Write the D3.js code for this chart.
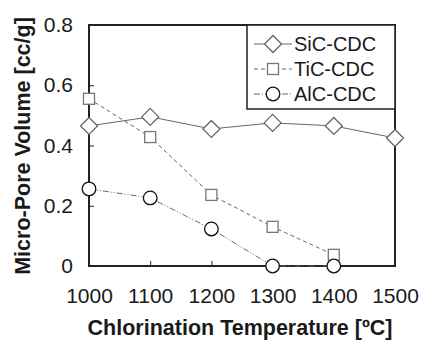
<!DOCTYPE html>
<html>
<head>
<meta charset="utf-8">
<script src="https://cdnjs.cloudflare.com/ajax/libs/d3/7.8.5/d3.min.js"></script>
<style>
  body { margin: 0; background: #fff; }
  text { font-family: "Liberation Sans", Arial, sans-serif; fill: #1a1a1a; }
</style>
</head>
<body>
<div id="chart"></div>
<script>
let TEMPS = [1000, 1100, 1200, 1300, 1400, 1500]
let SIC = [0.465, 0.495, 0.455, 0.475, 0.465, 0.425]
let TIC = [0.555, 0.428, 0.236, 0.13, 0.037]
let ALC = [0.256, 0.226, 0.123, 0, 0]
let Y_TICKS = [0, 0.2, 0.4, 0.6, 0.8]
let SERIES_NAMES = ["SiC-CDC", "TiC-CDC", "AlC-CDC"]

// dimensions and margins of the graph
var margin = {top: 25, right: 27, bottom: 75, left: 89},
    width = 422 - margin.left - margin.right,
    height = 341 - margin.top - margin.bottom;

var svg = d3.select("#chart")
  .append("svg")
    .attr("width", 422)
    .attr("height", 341)
  .append("g")
    .attr("transform", "translate(" + margin.left + "," + margin.top + ")");

var x = d3.scaleLinear().domain([1000, 1500]).range([0, width]);
var y = d3.scaleLinear().domain([0, 0.8]).range([height, 0]);

// frame
svg.append("rect")
  .attr("width", width).attr("height", height)
  .attr("fill", "none").attr("stroke", "#222").attr("stroke-width", 2);

// y axis
var yAxis = svg.append("g")
  .call(d3.axisRight(y).tickValues(Y_TICKS).tickSize(5).tickFormat(d => d === 0 ? "0" : d3.format(".1f")(d)))
yAxis.select(".domain").remove()
yAxis.selectAll("line").attr("stroke", "#222")
yAxis.selectAll("text")
  .attr("x", -16).attr("text-anchor", "end").attr("fill", "#222")
  .style("font-size", "21px").style("font-family", "Liberation Sans, Arial, sans-serif")

// x axis
var xAxis = svg.append("g")
  .attr("transform", "translate(0," + height + ")")
  .call(d3.axisTop(x).tickValues(TEMPS).tickSize(5).tickFormat(d3.format("d")))
xAxis.select(".domain").remove()
xAxis.selectAll("line").attr("stroke", "#222")
xAxis.selectAll("text")
  .attr("y", 37).attr("dy", 0).attr("fill", "#222")
  .style("font-size", "21px").style("font-family", "Liberation Sans, Arial, sans-serif")

// axis titles
svg.append("text")
  .attr("x", width / 2 - 2).attr("y", height + 69)
  .attr("text-anchor", "middle")
  .style("font-size", "21.5px").style("font-weight", "bold")
  .text("Chlorination Temperature [ºC]")

svg.append("text")
  .attr("transform", "rotate(-90)")
  .attr("x", -121).attr("y", -59)
  .attr("text-anchor", "middle")
  .style("font-size", "21.5px").style("font-weight", "bold")
  .text("Micro-Pore Volume [cc/g]")

var line = d3.line().x((d, i) => x(TEMPS[i])).y(d => y(d))
var styles = [
  {data: SIC, dash: null},
  {data: TIC, dash: "4,3"},
  {data: ALC, dash: "6,2,1,2,1,2"}
]

styles.forEach(s => {
  svg.append("path")
    .datum(s.data)
    .attr("d", line)
    .attr("fill", "none")
    .attr("stroke", "#666")
    .attr("stroke-width", 1)
    .attr("stroke-dasharray", s.dash)
})

function marker(g, kind) {
  if (kind === 0) {
    g.append("path").attr("d", "M0,-8.5L8.5,0L0,8.5L-8.5,0Z")
      .attr("fill", "#fff").attr("stroke", "#666").attr("stroke-width", 1.3)
  } else if (kind === 1) {
    g.append("rect").attr("x", -5.5).attr("y", -5.5).attr("width", 11).attr("height", 11)
      .attr("fill", "#fff").attr("stroke", "#777").attr("stroke-width", 1.3)
  } else {
    g.append("circle").attr("r", 6.8)
      .attr("fill", "#fff").attr("stroke", "#111").attr("stroke-width", 1.3)
  }
}

styles.forEach((s, k) => {
  svg.selectAll(null)
    .data(s.data)
    .enter()
    .append("g")
    .attr("transform", (d, i) => "translate(" + x(TEMPS[i]) + "," + y(d) + ")")
    .each(function() { marker(d3.select(this), k) })
})

// legend
var lg = svg.append("g").attr("transform", "translate(" + (width - 148) + ",0)")
lg.append("rect")
  .attr("width", 148).attr("height", 84)
  .attr("fill", "#fff").attr("stroke", "#222").attr("stroke-width", 1.5)

SERIES_NAMES.forEach((name, k) => {
  var row = lg.append("g").attr("transform", "translate(26," + (19 + k * 25) + ")")
  row.append("line").attr("x1", -19).attr("x2", 19)
    .attr("stroke", "#666").attr("stroke-width", 1).attr("stroke-dasharray", styles[k].dash)
  marker(row, k)
  row.append("text").attr("x", 21).attr("y", 7)
    .style("font-size", "20px").text(name)
})
</script>
</body>
</html>
